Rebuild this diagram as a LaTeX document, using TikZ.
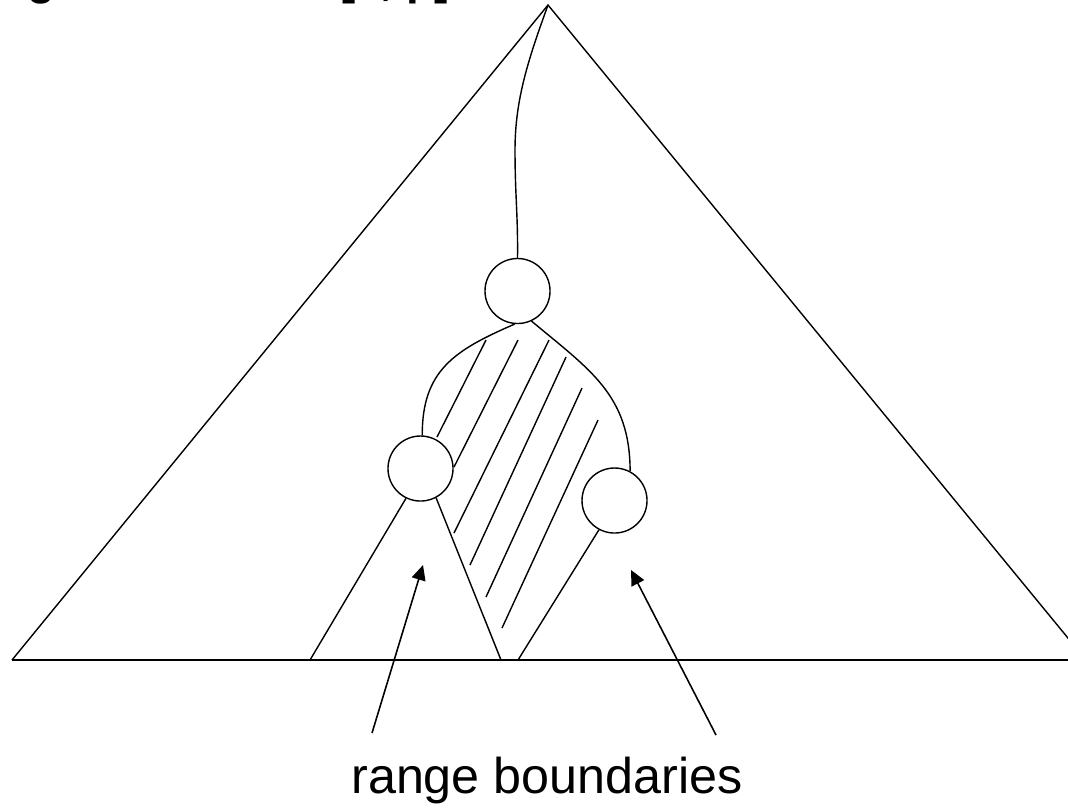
\documentclass[tikz,border=0pt]{standalone}
\usepackage{fontspec}
\setmainfont{Liberation Sans}
\usetikzlibrary{arrows.meta}
\tikzset{
  treenode/.style={draw, circle, minimum size=0.65cm, inner sep=0pt, line width=0.4pt},
  edge/.style={line width=0.4pt},
  baseline line/.style={line width=0.8pt},
  hatch/.style={line width=0.4pt},
  pointer/.style={line width=0.45pt, -{Triangle[length=0.15cm,width=0.14cm]}},
  caption/.style={font=\fontsize{14.3pt}{17pt}\selectfont, inner sep=0pt, anchor=base},
  title/.style={font=\fontsize{13pt}{15pt}\selectfont\bfseries, inner sep=0pt, anchor=base west}
}
\begin{document}
\begin{tikzpicture}[x=0.01cm,y=-0.01cm]
\clip (0,0) rectangle (1068,808);
\fill[white] (0,0) rectangle (1068,808);

% cut-off title
\node[title] (ttl) at (-72,-6) {Using the trees on [x, p]};

% big triangle
\coordinate (apex) at (548,5);
\coordinate (bl) at (12,660);
\coordinate (br) at (1086,660);
\draw[edge] (bl) -- (apex) -- (br);
\draw[baseline line] (bl) -- (1100,660);

% nodes
\node[treenode] (r) at (517.5,291) {};
\node[treenode] (u) at (420.5,468.5) {};
\node[treenode] (v) at (614.5,500.5) {};

% path from root to r
\draw[edge] (apex) .. controls (528,60) and (515,100) .. (515,150)
  .. controls (515,195) and (518,215) .. (r.north);

% children curves
\draw[edge] (r.265) .. controls (455,350) and (422,370) .. (u.87);
\draw[edge] (r.295) .. controls (590,370) and (630,395) .. (v.62);

% subtrees
\coordinate (ua) at (310,660);
\coordinate (ub) at (501,660);
\coordinate (va) at (518,660);
\draw[edge] (u.244) -- (ua);
\draw[edge] (u.298) -- (ub);
\draw[edge] (v.242) -- (va);

% hatching
\draw[hatch] (486,340) -- (437,437);
\draw[hatch] (518,340) -- (454,467);
\draw[hatch] (549,340) -- (454,533);
\draw[hatch] (566,357) -- (470,565);
\draw[hatch] (582,388) -- (486,597);
\draw[hatch] (598,420) -- (502,628);

% caption and arrows
\node[caption] (lbl) at (547,793) {range boundaries};
\coordinate (la) at (372,733);
\coordinate (lt) at (423,565);
\coordinate (ra) at (716,735);
\coordinate (rt) at (631,570);
\draw[pointer] (la) -- (lt);
\draw[pointer] (ra) -- (rt);
\end{tikzpicture}
\end{document}
